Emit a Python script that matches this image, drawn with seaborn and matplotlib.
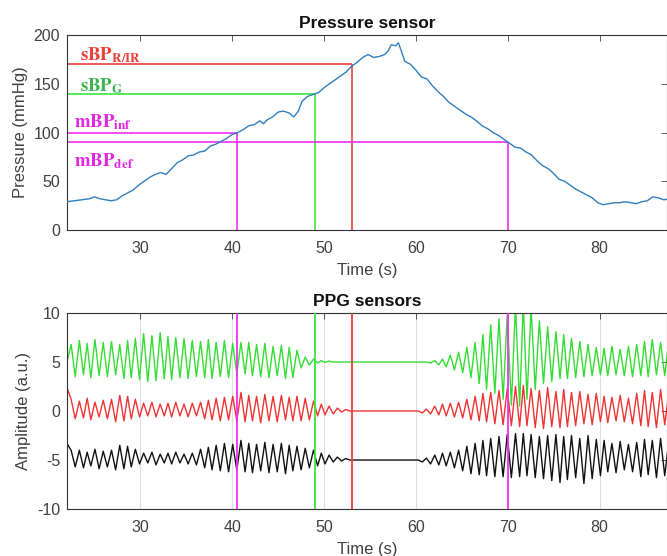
"""
Cuff pressure and PPG traces with the detected blood pressure markers
"""
import numpy as np
import pandas as pd
import matplotlib
matplotlib.use("Agg")
import matplotlib.pyplot as plt
import seaborn as sns

# Cuff pressure trace
press_t = [22.0, 22.8, 23.6, 24.4, 25.0, 25.6, 26.2, 26.8, 27.4, 28.0,
           28.6, 29.2, 29.8, 30.4, 31.0, 31.6, 32.2, 32.8, 33.4, 34.0,
           34.6, 35.2, 35.8, 36.4, 37.0, 37.6, 38.2, 38.8, 39.4, 40.0,
           40.6, 41.2, 41.8, 42.4, 43.0, 43.4, 43.8, 44.4, 45.0, 45.6,
           46.2, 46.7, 47.2, 47.6, 48.2, 48.8, 49.4, 50.0, 50.6, 51.2,
           51.8, 52.4, 53.0, 53.6, 54.2, 54.8, 55.4, 56.0, 56.6, 57.0,
           57.3, 57.8, 58.1, 58.4, 58.8, 59.4, 60.0, 60.6, 61.2, 61.8,
           62.4, 63.0, 63.6, 64.2, 64.8, 65.4, 66.0, 66.6, 67.2, 67.8,
           68.4, 69.0, 69.6, 70.2, 70.8, 71.4, 72.0, 72.6, 73.2, 73.8,
           74.4, 75.0, 75.6, 76.2, 76.8, 77.4, 78.0, 78.6, 79.2, 79.8,
           80.4, 81.0, 81.6, 82.2, 82.8, 83.4, 84.0, 84.6, 85.2, 85.8,
           86.4, 87.0, 87.6]
press_mmhg = [29, 30, 31, 32, 34, 32, 31, 30, 31, 35,
              38, 41, 46, 50, 54, 57, 59, 57, 63, 69,
              72, 76, 77, 80, 81, 86, 88, 91, 94, 98,
              100, 103, 107, 108, 112, 109, 113, 116, 121, 122,
              120, 116, 122, 132, 137, 139, 141, 146, 150, 154,
              158, 162, 168, 172, 177, 180, 177, 178, 180, 184,
              190, 189, 192, 184, 173, 170, 164, 157, 155, 148,
              142, 137, 131, 127, 123, 119, 116, 112, 107, 104,
              100, 97, 93, 89, 85, 84, 80, 77, 71, 66,
              63, 58, 52, 50, 46, 42, 39, 36, 33, 28,
              26, 27, 28, 28, 29, 28, 27, 29, 30, 34,
              33, 31, 32]

# Detected markers: time (s) and cuff pressure (mmHg)
mark_labels = [r"$\mathbf{sBP_{R/IR}}$", r"$\mathbf{sBP_{G}}$",
               r"$\mathbf{mBP_{inf}}$", r"$\mathbf{mBP_{def}}$"]
mark_t = [53.0, 49.0, 40.5, 70.0]
mark_p = [170, 140, 100, 90]
mark_colors = ["#f03c3c", "#3ce63c", "#f030f0", "#f030f0"]
label_colors = ["#e8423a", "#3cb450", "#e028e0", "#e028e0"]
label_t = [23.4, 23.4, 22.8, 22.8]
label_p = [174, 142, 105, 65]

# PPG sensors: beat foot times and per-beat trough / peak amplitudes
beat_t = [22.0, 22.9, 23.8, 24.6, 25.5, 26.4, 27.3, 28.2, 29.0, 29.9,
          30.8, 31.7, 32.6, 33.4, 34.3, 35.2, 36.1, 37.0, 37.8, 38.7,
          39.6, 40.5, 41.4, 42.2, 43.1, 44.0, 44.9, 45.8, 46.6, 47.5,
          48.4, 49.3, 50.1, 51.0, 51.9, 52.8, 53.7, 54.5, 55.4, 56.3,
          57.2, 58.1, 58.9, 59.8, 60.7, 61.6, 62.5, 63.3, 64.2, 65.1,
          66.0, 66.9, 67.7, 68.6, 69.5, 70.4, 71.3, 72.1, 73.0, 73.9,
          74.8, 75.7, 76.5, 77.4, 78.3, 79.2, 80.1, 80.9, 81.8, 82.7,
          83.6, 84.5, 85.3, 86.2, 87.1, 88.0]

green_peak = [6.8, 7.2, 6.9, 7.3, 7.0, 7.1, 6.8, 7.2, 7.4, 7.9,
              7.7, 8.0, 7.6, 7.5, 7.4, 7.2, 7.1, 7.3, 7.0, 7.2,
              6.9, 7.0, 7.0, 6.8, 6.9, 6.6, 6.7, 6.5, 6.2, 5.5,
              5.3, 5.15, 5.1, 5.0, 5.0, 5.0, 5.0, 5.0, 5.0, 5.0,
              5.0, 5.0, 5.0, 5.0, 5.0, 5.15, 5.3, 5.7, 6.0, 6.5,
              7.0, 7.8, 8.8, 9.4, 9.8, 10.8, 11.0, 10.5, 9.2, 8.6,
              8.1, 7.8, 7.4, 7.1, 6.8, 6.5, 6.4, 6.6, 6.3, 6.6,
              6.8, 7.1, 7.3, 7.0, 7.2, 7.0]
green_trough = [5.0, 3.5, 3.7, 3.4, 3.6, 3.5, 3.7, 3.3, 3.4, 3.2,
                3.0, 3.1, 3.3, 3.2, 3.4, 3.3, 3.5, 3.4, 3.3, 3.5,
                3.4, 3.8, 3.8, 3.6, 3.5, 3.4, 3.6, 3.3, 3.4, 4.4,
                4.7, 4.9, 4.95, 5.0, 5.0, 5.0, 5.0, 5.0, 5.0, 5.0,
                5.0, 5.0, 5.0, 5.0, 5.0, 4.9, 4.7, 4.5, 4.2, 3.9,
                3.4, 2.8, 2.2, 1.8, 1.2, 0.6, 0.5, 1.2, 2.2, 2.8,
                3.0, 3.3, 3.3, 3.4, 3.5, 3.6, 3.7, 3.6, 3.7, 3.6,
                3.5, 3.6, 3.5, 3.7, 3.6, 3.6]

red_peak = [1.2, 1.0, 1.3, 0.9, 1.1, 1.2, 1.6, 1.5, 1.2, 0.8,
            0.9, 0.7, 0.8, 0.9, 0.7, 0.8, 0.9, 1.1, 1.3, 1.4,
            1.5, 1.9, 1.6, 1.5, 1.7, 1.5, 1.6, 1.4, 1.5, 1.3,
            1.0, 0.7, 0.5, 0.3, 0.15, 0.0, 0.0, 0.0, 0.0, 0.0,
            0.0, 0.0, 0.0, 0.0, 0.2, 0.5, 0.7, 0.8, 0.9, 1.2,
            1.5, 1.8, 1.9, 2.1, 2.3, 2.5, 2.6, 2.3, 2.1, 2.4,
            2.0, 2.2, 1.9, 2.0, 1.7, 1.8, 1.5, 1.4, 1.6, 1.3,
            1.8, 2.1, 1.9, 2.2, 1.8, 2.0]
red_trough = [2.4, -0.8, -0.7, -0.9, -0.6, -0.8, -1.1, -1.0, -0.8, -0.6,
              -0.5, -0.6, -0.5, -0.6, -0.5, -0.6, -0.5, -0.8, -0.9, -1.0,
              -0.9, -1.0, -1.1, -1.0, -1.2, -1.0, -1.1, -0.9, -1.0, -1.0,
              -0.9, -0.5, -0.4, -0.3, -0.1, 0.0, 0.0, 0.0, 0.0, 0.0,
              0.0, 0.0, 0.0, 0.0, -0.2, -0.3, -0.4, -0.5, -0.6, -0.7,
              -0.9, -1.0, -1.1, -1.3, -1.4, -1.5, -1.6, -1.5, -1.7, -1.8,
              -1.6, -1.7, -1.6, -1.5, -1.3, -1.4, -1.1, -1.2, -1.0, -1.1,
              -1.3, -1.5, -1.6, -1.7, -1.4, -1.5]

ir_peak = [-4.0, -4.0, -4.2, -3.9, -4.1, -4.0, -3.5, -3.6, -3.9, -4.3,
           -4.2, -4.4, -4.3, -4.2, -4.4, -4.3, -3.9, -3.7, -3.5, -3.3,
           -3.4, -3.0, -3.3, -3.4, -3.2, -3.4, -3.3, -3.5, -3.6, -3.8,
           -4.0, -4.3, -4.5, -4.7, -4.85, -5.0, -5.0, -5.0, -5.0, -5.0,
           -5.0, -5.0, -5.0, -5.0, -4.8, -4.5, -4.3, -4.2, -4.0, -3.6,
           -3.3, -3.0, -2.8, -2.6, -2.4, -2.3, -2.3, -2.4, -2.6, -2.5,
           -2.4, -2.6, -2.5, -2.8, -2.5, -2.9, -3.0, -3.3, -3.1, -3.4,
           -3.2, -2.9, -3.0, -2.8, -3.1, -3.0]
ir_trough = [-3.3, -5.7, -5.8, -5.6, -5.9, -5.7, -6.0, -5.9, -5.7, -5.4,
             -5.3, -5.5, -5.3, -5.4, -5.3, -5.4, -5.5, -5.8, -6.0, -6.1,
             -6.2, -6.0, -6.2, -6.3, -6.1, -6.3, -6.2, -6.4, -6.1, -6.0,
             -5.8, -5.6, -5.4, -5.2, -5.1, -5.0, -5.0, -5.0, -5.0, -5.0,
             -5.0, -5.0, -5.0, -5.0, -5.2, -5.4, -5.5, -5.6, -5.8, -6.1,
             -6.4, -6.5, -6.6, -6.7, -6.7, -6.8, -6.7, -6.6, -6.8, -6.9,
             -7.1, -7.3, -7.0, -6.8, -7.4, -6.9, -6.6, -6.2, -6.3, -6.0,
             -6.2, -6.7, -6.5, -6.8, -6.6, -6.5]

ppg_colors = {"green": "#33dd33", "red": "#ee3333", "ir": "#111111"}

x_range = (22, 87.35)
text_col = "#404040"


def beat_trace(peaks, troughs):
    """Alternate each beat's trough and peak into one trace"""
    t = np.array(beat_t)
    gaps = np.diff(t, append=t[-1] + (t[-1] - t[-2]))
    x = np.column_stack([t, t + gaps / 2]).ravel()
    y = np.column_stack([troughs, peaks]).ravel()
    return pd.DataFrame({"t": x, "amp": y})


sns.set_theme(style="white")
plt.rcParams["font.family"] = ["Liberation Sans", "DejaVu Sans"]
plt.rcParams["mathtext.fontset"] = "stix"
plt.rcParams["axes.unicode_minus"] = False

fig = plt.figure(figsize=(6.67, 5.56), dpi=100)
ax1 = fig.add_axes([0.1004, 0.5863, 0.8996, 0.3507])
ax2 = fig.add_axes([0.1004, 0.0845, 0.8996, 0.3525])

# Pressure sensor
press_df = pd.DataFrame({"t": press_t, "p": press_mmhg})
for p, t, c in zip(mark_p, mark_t, mark_colors):
    ax1.hlines(p, x_range[0], t, color=c, lw=1.2, zorder=1)
    ax1.vlines(t, 0, p, color=c, lw=1.2, zorder=1)
sns.lineplot(data=press_df, x="t", y="p", ax=ax1, color="#2f7fbf",
             lw=1.0, estimator=None, sort=False, zorder=3)
for lab, t, p, c in zip(mark_labels, label_t, label_p, label_colors):
    ax1.text(t, p, lab, color=c, fontsize=13.5, va="baseline", ha="left")

ax1.set_xlim(*x_range)
ax1.set_ylim(0, 200)
ax1.set_yticks([0, 50, 100, 150, 200])
ax1.set_ylabel("Pressure (mmHg)", fontsize=12, color=text_col, labelpad=4)
ax1.set_title("Pressure sensor", fontsize=12.5, fontweight="bold",
              color="#111111", pad=5)

# PPG sensors
for key, (pk, tr) in {"green": (green_peak, green_trough),
                      "red": (red_peak, red_trough),
                      "ir": (ir_peak, ir_trough)}.items():
    sns.lineplot(data=beat_trace(pk, tr), x="t", y="amp", ax=ax2,
                 color=ppg_colors[key], lw=1.0, estimator=None, sort=False,
                 zorder=2)
for t, c in zip(mark_t, mark_colors):
    ax2.axvline(t, color=c, lw=1.3, zorder=3)

ax2.set_xlim(*x_range)
ax2.set_ylim(-10, 10)
ax2.set_yticks([-10, -5, 0, 5, 10])
ax2.grid(axis="x", color="#dedede", lw=0.8)
ax2.set_axisbelow(True)
ax2.set_ylabel("Amplitude (a.u.)", fontsize=12, color=text_col, labelpad=4)
ax2.set_title("PPG sensors", fontsize=12.5, fontweight="bold",
              color="#111111", pad=5)

for ax in (ax1, ax2):
    ax.set_xticks([30, 40, 50, 60, 70, 80])
    ax.set_xlabel("Time (s)", fontsize=12, color=text_col, labelpad=5)
    ax.tick_params(direction="in", top=True, right=True, length=4,
                   width=0.6, colors=text_col, labelsize=11.5)
    ax.tick_params(axis="x", pad=8)
    ax.tick_params(axis="y", pad=5)
    for sp in ax.spines.values():
        sp.set_color("#333333")
        sp.set_linewidth(0.8)

fig.savefig("out.png", dpi=100)
